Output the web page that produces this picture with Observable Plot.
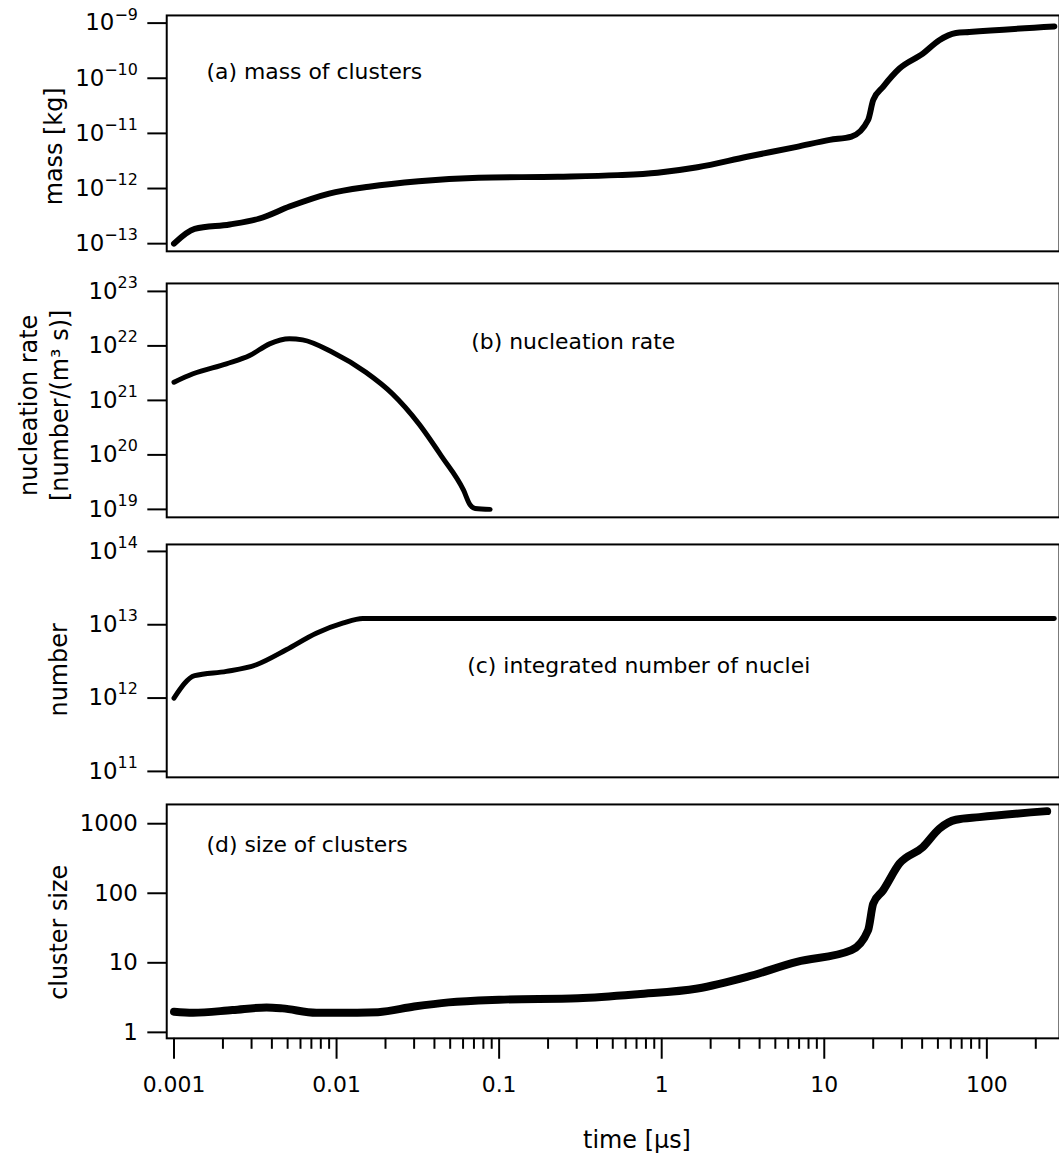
<!DOCTYPE html>
<html><head><meta charset="utf-8">
<script src="https://cdn.jsdelivr.net/npm/d3@7"></script>
<script src="https://cdn.jsdelivr.net/npm/@observablehq/plot@0.6"></script>
<style>
html,body{margin:0;padding:0;background:#fff;overflow:hidden;width:1059px;height:1167px}
#chart{position:relative;width:1059px;height:1167px;overflow:hidden}
#chart > div{position:absolute;left:0}
</style></head>
<body><div id="chart"></div>
<script>
// ---- data (time in microseconds) ----
const timeA = [0.001, 0.00134, 0.0022, 0.00336, 0.00513, 0.009, 0.0158, 0.032, 0.0746, 0.23, 0.537, 0.943, 1.66, 3.35, 6.78, 10.8, 14.7, 18.6, 20.0, 23.0, 29.0, 40.4, 51.0, 64.5, 78, 260];
const massA = [1.0e-13, 1.85e-13, 2.23e-13, 2.86e-13, 4.71e-13, 8.1e-13, 1.08e-12, 1.36e-12, 1.57e-12, 1.64e-12, 1.75e-12, 1.94e-12, 2.43e-12, 3.77e-12, 5.7e-12, 7.64e-12, 8.75e-12, 1.75e-11, 4.03e-11, 7.0e-11, 1.5e-10, 2.8e-10, 4.9e-10, 6.6e-10, 6.9e-10, 8.7e-10];

const timeB = [0.001, 0.00131, 0.0021, 0.00292, 0.00387, 0.00513, 0.00618, 0.00944, 0.0151, 0.022, 0.032, 0.0445, 0.0604, 0.0664, 0.0712, 0.088];
const rateB = [2.16e21, 3.08e21, 4.7e21, 6.65e21, 1.09e22, 1.35e22, 1.29e22, 7.66e21, 3.3e21, 1.33e21, 3.75e20, 9.2e19, 2.25e19, 1.2e19, 1.04e19, 1.0e19];

const timeC = [0.001, 0.00134, 0.0021, 0.00321, 0.0049, 0.0075, 0.0109, 0.0145, 0.1, 1, 10, 100, 260];
const numberC = [1.0e12, 2.02e12, 2.31e12, 2.85e12, 4.55e12, 7.66e12, 1.05e13, 1.22e13, 1.22e13, 1.22e13, 1.22e13, 1.22e13, 1.22e13];

const timeD = [0.001, 0.00131, 0.00229, 0.00371, 0.00465, 0.00751, 0.00996, 0.018, 0.03, 0.0489, 0.1, 0.306, 0.71, 1.66, 3.35, 6.78, 14.7, 18.6, 20.0, 23.0, 29.0, 40.4, 51.0, 64.5, 90, 235];
const sizeD = [1.98, 1.91, 2.09, 2.28, 2.21, 1.91, 1.91, 1.95, 2.35, 2.7, 2.95, 3.1, 3.54, 4.27, 6.28, 10.3, 15.2, 29.4, 71, 110, 267, 461, 847, 1140, 1244, 1517];

// ---- ticks & labels ----
const ticksA = [1e-13, 1e-12, 1e-11, 1e-10, 1e-9];
const ticksB = [1e19, 1e20, 1e21, 1e22, 1e23];
const ticksC = [1e11, 1e12, 1e13, 1e14];
const ticksD = [1, 10, 100, 1000];
const ticksDLabels = ["1", "10", "100", "1000"];
const xTicks = [0.001, 0.01, 0.1, 1, 10, 100];
const xTickLabels = ["0.001", "0.01", "0.1", "1", "10", "100"];
const xMinor = [];
for (const dec of [0.001, 0.01, 0.1, 1, 10, 100]) for (let k = 2; k <= 9; k++) { const v = dec * k; if (v < 270) xMinor.push(v); }

const noteA = "(a) mass of clusters";
const noteB = "(b) nucleation rate";
const noteC = "(c) integrated number of nuclei";
const noteD = "(d) size of clusters";
const labelA = "mass [kg]";
const labelB = "nucleation rate\n[number/(m³ s)]";
const labelC = "number";
const labelD = "cluster size";
const xLabel = "time [μs]";

// ---- layout ----
const W = 1064;
const FONT = "'DejaVu Sans', sans-serif";
const xDomain = [10 ** -3.0447, 10 ** 2.4468];

const powFmt = d => "10^" + Math.round(Math.log10(d));

function panel(o) {
  const data = o.t.map((t, i) => ({t, v: o.v[i]}));
  const marks = [
    Plot.line(data, {x: "t", y: "v", stroke: "black", strokeWidth: o.sw, curve: "monotone-x", strokeLinecap: "round", strokeLinejoin: "round"}),
    Plot.frame({stroke: "black", strokeWidth: 2}),
    Plot.axisY({ticks: o.ticks, tickSize: 19, tickPadding: 10, strokeWidth: 2, label: null, fontSize: 23, tickFormat: o.fmt}),
    Plot.text([o.note], {text: d => d, frameAnchor: "top-left", textAnchor: "start", dx: o.noteDx, dy: o.noteDy, fontSize: 22, fill: "black"}),
    Plot.text([o.label], {text: d => d, frameAnchor: "left", textAnchor: "middle", lineAnchor: "middle", rotate: -90, dx: o.labelDx, dy: o.labelDy, fontSize: 24, lineHeight: 1.3, fill: "black"})
  ];
  if (o.xaxis) {
    marks.push(
      Plot.axisX({ticks: xMinor, tickSize: 11, strokeWidth: 2, tickFormat: () => "", label: null}),
      Plot.axisX({ticks: xTicks, tickSize: 21, tickPadding: 17, strokeWidth: 2, label: null, fontSize: 22,
        tickFormat: d => xTickLabels[xTicks.indexOf(d)]}),
      Plot.text([xLabel], {text: d => d, frameAnchor: "bottom", textAnchor: "middle", dx: 24, dy: 110, fontSize: 24, fill: "black"})
    );
  }
  const svg = Plot.plot({
    width: W, height: o.height,
    marginLeft: 167, marginRight: 0, marginTop: 10, marginBottom: o.mb,
    x: {type: "log", domain: xDomain, axis: o.xaxis ? undefined : null},
    y: {type: "log", domain: o.ydomain},
    style: {fontFamily: FONT, fontSize: "22px", color: "black", background: "transparent", overflow: "visible"},
    marks
  });
  // superscript exponents
  d3.select(svg).selectAll("text").each(function () {
    const m = /^10\^(-?\d+)$/.exec(this.textContent);
    if (!m) return;
    const sel = d3.select(this);
    sel.text(null);
    sel.append("tspan").text("10");
    sel.append("tspan").attr("dy", "-11").attr("font-size", "16").text(m[1].replace("-", "−"));
  });
  const div = document.createElement("div");
  div.style.top = o.top + "px";
  div.appendChild(svg);
  document.getElementById("chart").appendChild(div);
}

panel({top: 5, height: 257, mb: 10, t: timeA, v: massA, sw: 6, ydomain: [10 ** -13.139, 10 ** -8.861],
  ticks: ticksA, fmt: powFmt, note: noteA, noteDx: 40, noteDy: 48, label: labelA, labelDx: -115, labelDy: 13});
panel({top: 273, height: 255, mb: 10, t: timeB, v: rateB, sw: 5, ydomain: [10 ** 18.854, 10 ** 23.146],
  ticks: ticksB, fmt: powFmt, note: noteB, noteDx: 306, noteDy: 50, label: labelB, labelDx: -125, labelDy: 5});
panel({top: 534, height: 254, mb: 10, t: timeC, v: numberC, sw: 5, ydomain: [10 ** 10.919, 10 ** 14.095],
  ticks: ticksC, fmt: powFmt, note: noteC, noteDx: 302, noteDy: 114, label: labelC, labelDx: -110, labelDy: 9});
panel({top: 794, height: 373, mb: 128, t: timeD, v: sizeD, sw: 8, ydomain: [10 ** -0.086, 10 ** 3.277],
  ticks: ticksD, fmt: d => ticksDLabels[ticksD.indexOf(d)], note: noteD, noteDx: 40, noteDy: 32, label: labelD, labelDx: -110, labelDy: 11, xaxis: true});
</script>
</body></html>
